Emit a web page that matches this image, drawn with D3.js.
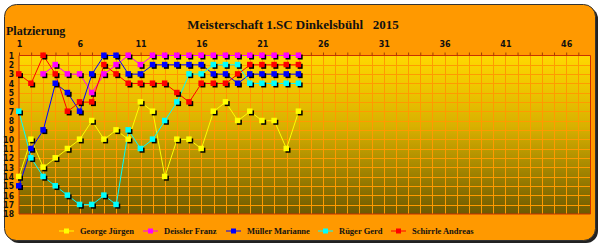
<!DOCTYPE html>
<html>
<head>
<meta charset="utf-8">
<script src="https://cdn.jsdelivr.net/npm/d3@7"></script>
<style>
  body { margin: 0; background: #ffffff; }
</style>
</head>
<body>
<div id="chart"></div>
<script>
// rounds 1..24, rank per round (null = not played)
var rounds = d3.range(1, 25);
var george   = [14,10,13,12,11,10,8,10,9,10,6,7,14,10,10,11,7,6,8,7,8,8,11,7];
var deissler = [null,null,3,2,3,3,5,3,2,1,2,1,1,1,1,1,1,1,1,1,1,1,1,1];
var mueller  = [15,11,9,4,5,7,3,1,1,3,3,2,2,2,2,2,3,3,4,3,3,3,3,3];
var rueger   = [7,12,14,15,16,17,17,16,17,9,11,10,8,6,3,3,2,2,2,4,4,4,4,4];
var schirrle = [3,4,1,3,7,6,6,2,3,4,4,4,4,5,6,4,4,4,3,2,2,2,2,2];

var names  = ["George Jürgen", "Deissler Franz", "Müller Marianne", "Rüger Gerd", "Schirrle Andreas"];
var colors = ["#ffff00", "#ff00ff", "#0000ff", "#00ffff", "#ff0000"];
var xTicks = [1, 6, 11, 16, 21, 26, 31, 36, 41, 46];
var yTicks = d3.range(1, 19);

var series = [george, deissler, mueller, rueger, schirrle];

var W = 600, H = 245;
var svg = d3.select("#chart").append("svg")
    .attr("width", W).attr("height", H);

var defs = svg.append("defs");
var grad = defs.append("linearGradient")
    .attr("id", "plotbg").attr("x1", 0).attr("y1", 0).attr("x2", 0).attr("y2", 1);
grad.append("stop").attr("offset", "0%").attr("stop-color", "#ffd800");
grad.append("stop").attr("offset", "45%").attr("stop-color", "#d8b000");
grad.append("stop").attr("offset", "100%").attr("stop-color", "#6e5a00");

// frame
svg.append("rect")
    .attr("x", 7).attr("y", 7).attr("width", 591).attr("height", 236)
    .attr("rx", 12).attr("fill", "#222");
svg.append("rect")
    .attr("x", 4.5).attr("y", 4.5).attr("width", 591).attr("height", 236)
    .attr("rx", 12).attr("fill", "#ff9900").attr("stroke", "#333").attr("stroke-width", 1);

var pLeft = 19, pRight = 590.5, pTop = 55.5, pBottom = 214;

var x = d3.scaleLinear().domain([1, 48]).range([pLeft, pRight]);
var y = d3.scaleLinear().domain([1, 18]).range([pTop, pBottom]);

// plot area
svg.append("rect")
    .attr("x", pLeft).attr("y", pTop)
    .attr("width", pRight - pLeft).attr("height", pBottom - pTop)
    .attr("fill", "url(#plotbg)");

// grid
var grid = svg.append("g").attr("stroke", "#ff9a00").attr("stroke-width", 1);
grid.selectAll(".vx").data(d3.range(2, 48)).enter().append("line")
    .attr("x1", function(d) { return Math.round(x(d)) + 0.5; })
    .attr("x2", function(d) { return Math.round(x(d)) + 0.5; })
    .attr("y1", pTop).attr("y2", pBottom);
grid.selectAll(".hy").data(d3.range(2, 18)).enter().append("line")
    .attr("y1", function(d) { return Math.round(y(d)) + 0.5; })
    .attr("y2", function(d) { return Math.round(y(d)) + 0.5; })
    .attr("x1", pLeft).attr("x2", pRight);

// plot border
svg.append("path")
    .attr("d", "M" + pLeft + "," + pTop + "H" + pRight + "V" + pBottom + "H" + pLeft + "Z")
    .attr("fill", "none").attr("stroke", "#c83000").attr("stroke-width", 1);

// top axis
var xAxis = d3.axisTop(x).tickValues(d3.range(1, 48)).tickSize(3)
    .tickFormat(function(d) { return xTicks.indexOf(d) >= 0 ? d : ""; });
var gx = svg.append("g").attr("transform", "translate(0," + pTop + ")").call(xAxis);
gx.select(".domain").remove();
gx.selectAll("line").attr("stroke", "#a04000");
gx.selectAll("text")
    .attr("font-family", "DejaVu Sans, sans-serif").attr("font-size", 8).attr("font-weight", "bold")
    .attr("fill", "#111").attr("dy", "-3");

// left axis
var yAxis = d3.axisLeft(y).tickValues(yTicks).tickSize(0).tickPadding(5);
var gy = svg.append("g").attr("transform", "translate(" + pLeft + ",0)").call(yAxis);
gy.select(".domain").remove();
gy.selectAll("text")
    .attr("font-family", "DejaVu Sans Condensed, DejaVu Sans, sans-serif").attr("font-size", 8.5).attr("font-weight", "bold")
    .attr("fill", "#111");

// lines
var line = d3.line()
    .defined(function(d) { return d != null; })
    .x(function(d, i) { return x(rounds[i]); })
    .y(function(d) { return y(d); });

series.forEach(function(s, k) {
  svg.append("path").datum(s)
      .attr("d", line)
      .attr("fill", "none").attr("stroke", colors[k]).attr("stroke-width", 1);
});

// markers with shadow
series.forEach(function(s, k) {
  var pts = s.map(function(d, i) { return {r: rounds[i], v: d}; })
      .filter(function(p) { return p.v != null; });
  var g = svg.append("g");
  g.selectAll(".sh").data(pts).enter().append("rect")
      .attr("x", function(p) { return x(p.r) - 1; })
      .attr("y", function(p) { return y(p.v) - 1; })
      .attr("width", 5).attr("height", 5).attr("fill", "#000");
  g.selectAll(".mk").data(pts).enter().append("rect")
      .attr("x", function(p) { return x(p.r) - 3; })
      .attr("y", function(p) { return y(p.v) - 3; })
      .attr("width", 5.5).attr("height", 5.5).attr("fill", colors[k]);
});

// title
svg.append("text")
    .attr("x", 293).attr("y", 29).attr("text-anchor", "middle")
    .attr("font-family", "Liberation Serif, serif").attr("font-weight", "bold").attr("font-size", 13)
    .attr("fill", "#111").attr("xml:space", "preserve")
    .text("Meisterschaft 1.SC Dinkelsbühl   2015");

svg.append("text")
    .attr("x", 6).attr("y", 35)
    .attr("font-family", "Liberation Serif, serif").attr("font-weight", "bold").attr("font-size", 12)
    .attr("fill", "#111")
    .text("Platzierung");

// legend
var legX = [59, 143, 226, 318, 391];
var leg = svg.append("g");
names.forEach(function(n, k) {
  var g = leg.append("g").attr("transform", "translate(" + legX[k] + ",231)");
  g.append("line").attr("x1", 0).attr("x2", 15).attr("stroke", colors[k]).attr("stroke-width", 1);
  g.append("rect").attr("x", 5).attr("y", -2.5).attr("width", 5).attr("height", 5).attr("fill", colors[k]);
  g.append("text").attr("x", 21).attr("y", 3)
      .attr("font-family", "Liberation Serif, serif").attr("font-weight", "bold").attr("font-size", 8.5)
      .attr("fill", "#111").text(n);
});
</script>
</body>
</html>
